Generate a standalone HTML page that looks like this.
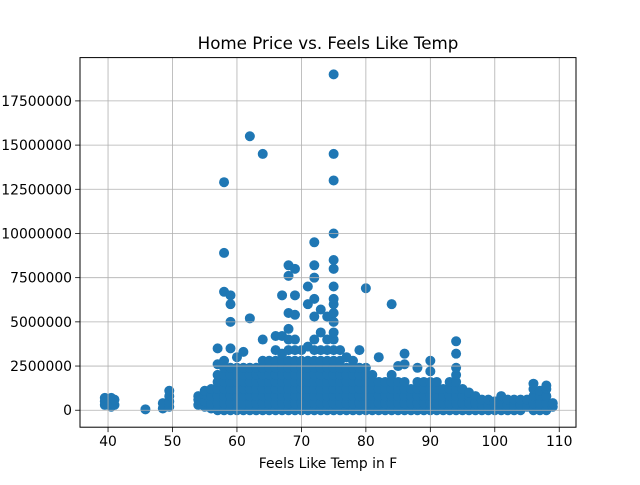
<!DOCTYPE html>
<html><head><meta charset="utf-8"><style>
body{margin:0;background:#fff}
svg text{font-family:"DejaVu Sans","Liberation Sans",sans-serif;fill:#000}
</style></head><body>
<svg id="chart" width="640" height="480" viewBox="0 0 640 480" xmlns="http://www.w3.org/2000/svg">
<rect width="640" height="480" fill="#fff"/>
<text x="328" y="49" font-size="16.7" text-anchor="middle">Home Price vs. Feels Like Temp</text>
<g id="points"></g>
<g id="grid"></g>
<rect x="80" y="57.6" width="496" height="369.6" fill="none" stroke="#000" stroke-width="1"/>
<g id="ticks"></g>
<text x="328" y="468" font-size="13.9" text-anchor="middle">Feels Like Temp in F</text>
</svg>
<script>
const xTicks=[40,50,60,70,80,90,100,110];
const yTicks=[0,2500000,5000000,7500000,10000000,12500000,15000000,17500000];
const yTickLabels=["0","2500000","5000000","7500000","10000000","12500000","15000000","17500000"];
// columns: temperature, prices in millions
const colTemps=[39.5,40.5,41,45.8,48.5,49.5,54,55,56,57,58,59,60,61,62,63,64,65,66,67,68,69,70,71,72,73,74,75,76,77,78,79,80,81,82,83,84,85,86,87,88,89,90,91,92,93,94,95,96,97,98,99,100,101,102,103,104,105,106,107,108,109];
const colPrices=[
[0.3,0.5,0.7],[0.2,0.5,0.7],[0.3,0.6],[0.05],[0.1,0.4],[0.2,0.5,0.8,1.1],
[0.3,0.6,0.8],[0.2,0.5,0.9,1.1],[0.1,0.4,0.8,1.2],
[0,0.4,0.8,1.2,1.6,2.0,2.6,3.5],
[0,0.4,0.8,1.2,1.6,2.0,2.4,2.8,6.7,8.9,12.9],
[0,0.4,0.8,1.2,1.6,2.0,2.4,3.5,5.0,6.0,6.5],
[0,0.4,0.8,1.2,1.6,2.0,2.4,3.0],
[0,0.4,0.8,1.2,1.6,2.0,2.4,3.3],
[0,0.4,0.8,1.2,1.6,2.0,2.4,5.2,15.5],
[0,0.4,0.8,1.2,1.6,2.0,2.4],
[0,0.4,0.8,1.2,1.6,2.0,2.4,2.8,4.0,14.5],
[0,0.4,0.8,1.2,1.6,2.0,2.4,2.8],
[0,0.4,0.8,1.2,1.6,2.0,2.4,2.8,3.4,4.2],
[0,0.4,0.8,1.2,1.6,2.0,2.4,2.8,3.2,4.2,6.5],
[0,0.4,0.8,1.2,1.6,2.0,2.4,2.8,3.4,4.0,4.6,5.5,7.6,8.2],
[0,0.4,0.8,1.2,1.6,2.0,2.4,2.8,3.4,4.0,5.4,6.5,8.0],
[0,0.4,0.8,1.2,1.6,2.0,2.4,2.8,3.4],
[0,0.4,0.8,1.2,1.6,2.0,2.4,2.8,3.6,6.0,7.0],
[0,0.4,0.8,1.2,1.6,2.0,2.4,2.8,3.4,4.0,5.3,6.3,7.5,8.2,9.5],
[0,0.4,0.8,1.2,1.6,2.0,2.4,2.8,3.4,4.4,5.7],
[0,0.4,0.8,1.2,1.6,2.0,2.4,2.8,3.4,4.0,5.3],
[0,0.4,0.8,1.2,1.6,2.0,2.4,2.8,3.4,4.0,4.4,5.0,5.5,6.0,6.3,7.0,8.0,8.5,10.0,13.0,14.5,19.0],
[0,0.4,0.8,1.2,1.6,2.0,2.4,2.8,3.4],
[0,0.4,0.8,1.2,1.6,2.0,2.4,3.0],
[0,0.4,0.8,1.2,1.6,2.0,2.4,2.8],
[0,0.4,0.8,1.2,1.6,2.0,2.4,3.4],
[0,0.4,0.8,1.2,1.6,2.0,2.4,6.9],
[0,0.4,0.8,1.2,1.6,2.0],
[0,0.4,0.8,1.2,1.6,3.0],
[0,0.4,0.8,1.2,1.6],
[0,0.4,0.8,1.2,1.6,2.0,6.0],
[0,0.4,0.8,1.2,1.6,2.5],
[0,0.4,0.8,1.2,1.6,2.6,3.2],
[0,0.4,0.8,1.2],
[0,0.4,0.8,1.2,1.6,2.4],
[0,0.4,0.8,1.2,1.6],
[0,0.4,0.8,1.2,1.6,2.2,2.8],
[0,0.4,0.8,1.2,1.6],
[0,0.4,0.8,1.2],
[0,0.4,0.8,1.2,1.6],
[0,0.4,0.8,1.2,1.6,2.0,2.4,3.2,3.9],
[0,0.4,0.8,1.2],
[0,0.4,0.8,1.0],
[0,0.4,0.8],
[0,0.3,0.6],[0,0.3,0.6],[0,0.3,0.5],
[0,0.4,0.8],
[0,0.3,0.6],[0,0.3,0.6],[0,0.3,0.6],
[0.2,0.6],
[0,0.4,0.8,1.2,1.5],
[0,0.4,0.8,1.1],
[0,0.4,0.8,1.2,1.4],
[0.2,0.4]
];
const NS="http://www.w3.org/2000/svg";
const L=80,R=576,T=57.6,B=427.2;
const xMin=35.65,xMax=112.6,yMin=-960000,yMax=19950000;
const sx=v=>L+(v-xMin)/(xMax-xMin)*(R-L);
const sy=v=>B-(v-yMin)/(yMax-yMin)*(B-T);
const grid=document.getElementById('grid'),ticks=document.getElementById('ticks'),pts=document.getElementById('points');
function mk(tag,attrs,parent){const e=document.createElementNS(NS,tag);for(const k in attrs)e.setAttribute(k,attrs[k]);parent.appendChild(e);return e;}
xTicks.forEach(v=>{const x=sx(v);
 const g=mk('line',{x1:x,x2:x,y1:T,y2:B,stroke:'#b0b0b0','stroke-width':0.8},grid);
 
 
 const t=mk('line',{x1:x,x2:x,y1:B,y2:B+4.9,stroke:'#000','stroke-width':0.8},ticks);
 
 
 const l=mk('text',{x:x,y:B+19,'font-size':13.9,'text-anchor':'middle'},ticks);l.textContent=v;
 
 
});
yTicks.forEach((v,i)=>{const y=sy(v);
 const g=mk('line',{x1:L,x2:R,y1:y,y2:y,stroke:'#b0b0b0','stroke-width':0.8},grid);
 
 
 const t=mk('line',{x1:L-4.9,x2:L,y1:y,y2:y,stroke:'#000','stroke-width':0.8},ticks);
 
 
 const l=mk('text',{x:L-8,y:y+5,'font-size':13.9,'text-anchor':'end'},ticks);l.textContent=yTickLabels[i];
 
 
});
colTemps.forEach((t,i)=>{colPrices[i].forEach(p=>{
 const c=mk('circle',{cx:sx(t),cy:sy(p*1e6),r:5,fill:'#1f77b4'},pts);
 
 
});});
</script>
</body></html>
